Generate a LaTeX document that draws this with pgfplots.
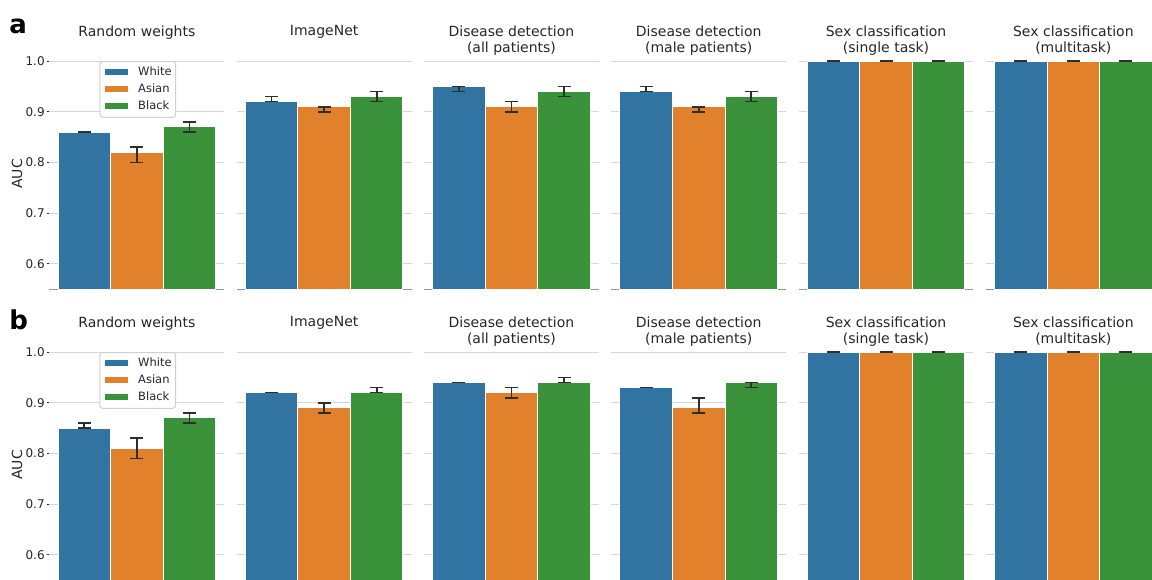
\documentclass[border=0pt]{standalone}
\usepackage{fontspec}
\setmainfont{DejaVu Sans}
\usepackage{pgfplots}
\pgfplotsset{compat=1.18}
\definecolor{cW}{HTML}{3274A1}
\definecolor{cA}{HTML}{E1812C}
\definecolor{cB}{HTML}{3A923A}
\definecolor{txt}{HTML}{262626}
\definecolor{gridc}{HTML}{D6D6D6}
\definecolor{axc}{HTML}{959595}
\definecolor{errc}{HTML}{2E2E2E}
\definecolor{legc}{HTML}{D0D0D0}
\pgfplotsset{
  panel/.style={
    scale only axis, width=87.35pt, height=115.35pt,
    xmin=-0.662, xmax=2.662, ymin=0.55, ymax=1.005,
    anchor=south west,
    axis x line=bottom, axis y line=left,
    x axis line style={-, draw=axc, line width=0.65pt},
    y axis line style={draw=none},
    xtick=\empty,
    ytick={0.6,0.7,0.8,0.9,1.0},
    yticklabels={},
    ymajorgrids, grid style={draw=gridc, line width=0.5pt},
    major tick length=0pt,
    ytick style={draw=none},
    title style={at={(0.5,1)}, anchor=north, yshift=10.75pt, inner sep=0pt,
      align=center, font=\fontsize{7}{8.4}\selectfont, text=txt},
  },
  firstcol/.style={
    yticklabels={0.6,0.7,0.8,0.9,1.0},
    ytick style={draw=txt, line width=0.4pt},
    major tick length=1.3pt, tick align=outside,
    yticklabel style={font=\fontsize{6}{7}\selectfont, text=txt, inner sep=0.9pt},
    ylabel={AUC},
    ylabel style={at={(axis description cs:-0.186,0.5)}, anchor=center, inner sep=0pt,
      font=\fontsize{7}{8}\selectfont, text=txt},
    legend entries={White,Asian,Black},
    legend cell align=left,
    legend style={at={(0.285,0.989)}, anchor=north west, draw=legc, line width=0.5pt,
      rounded corners=1.5pt, fill=white, inner xsep=2pt, inner ysep=2.7pt,
      font=\fontsize{5.75}{6.9}\selectfont, text=txt,
      row sep=3pt, column sep=0pt,
      nodes={inner sep=0pt, text height=4.3pt, text depth=1.2pt}},
  },
  mybar/.style={
    ybar, bar width=1, bar shift=0pt, draw=white, line width=0.5pt,
    legend image code/.code={\fill[##1, sharp corners] (0pt,-1.75pt) rectangle (12pt,1.75pt);
      \path (16.7pt,0pt);},
    error bars/y dir=both, error bars/y explicit,
    error bars/error bar style={line width=0.85pt, draw=errc, solid},
    error bars/error mark options={rotate=90, line width=0.85pt, draw=errc, mark size=3.25pt},
  },
}
\newcommand{\panel}[7]{%
\begin{axis}[panel, at={(#1,#2)}, title={#3}, #4]
\addplot[mybar, fill=cW] coordinates {#5};
\addplot[mybar, fill=cA] coordinates {#6};
\addplot[mybar, fill=cB] coordinates {#7};
\end{axis}}
\begin{document}
\begin{tikzpicture}
\path[use as bounding box] (0pt,0pt) rectangle (576pt,289.5pt);
\clip (0pt,0pt) rectangle (576pt,289.5pt);
% ---- row a ----
\panel{24.75pt}{144.9pt}{Random weights}{firstcol}
 {(0,0.86) += (0,0) -= (0,0)}{(1,0.82) += (0,0.01) -= (0,0.02)}{(2,0.87) += (0,0.01) -= (0,0.01)}
\panel{118.4pt}{144.9pt}{ImageNet}{}
 {(0,0.92) += (0,0.01) -= (0,0)}{(1,0.91) += (0,0) -= (0,0.01)}{(2,0.93) += (0,0.01) -= (0,0.01)}
\panel{212.05pt}{144.9pt}{Disease detection\\(all patients)}{}
 {(0,0.95) += (0,0) -= (0,0.01)}{(1,0.91) += (0,0.01) -= (0,0.01)}{(2,0.94) += (0,0.01) -= (0,0.01)}
\panel{305.7pt}{144.9pt}{Disease detection\\(male patients)}{}
 {(0,0.94) += (0,0.01) -= (0,0)}{(1,0.91) += (0,0) -= (0,0.01)}{(2,0.93) += (0,0.01) -= (0,0.01)}
\panel{399.35pt}{144.9pt}{Sex classification\\(single task)}{}
 {(0,1.0) += (0,0) -= (0,0)}{(1,1.0) += (0,0) -= (0,0)}{(2,1.0) += (0,0) -= (0,0)}
\panel{493pt}{144.9pt}{Sex classification\\(multitask)}{}
 {(0,1.0) += (0,0) -= (0,0)}{(1,1.0) += (0,0) -= (0,0)}{(2,1.0) += (0,0) -= (0,0)}
% ---- row b ----
\panel{24.75pt}{-0.6pt}{Random weights}{firstcol}
 {(0,0.85) += (0,0.01) -= (0,0)}{(1,0.81) += (0,0.02) -= (0,0.02)}{(2,0.87) += (0,0.01) -= (0,0.01)}
\panel{118.4pt}{-0.6pt}{ImageNet}{}
 {(0,0.92) += (0,0) -= (0,0)}{(1,0.89) += (0,0.01) -= (0,0.01)}{(2,0.92) += (0,0.01) -= (0,0)}
\panel{212.05pt}{-0.6pt}{Disease detection\\(all patients)}{}
 {(0,0.94) += (0,0) -= (0,0)}{(1,0.92) += (0,0.01) -= (0,0.01)}{(2,0.94) += (0,0.01) -= (0,0)}
\panel{305.7pt}{-0.6pt}{Disease detection\\(male patients)}{}
 {(0,0.93) += (0,0) -= (0,0)}{(1,0.89) += (0,0.02) -= (0,0.01)}{(2,0.94) += (0,0) -= (0,0.01)}
\panel{399.35pt}{-0.6pt}{Sex classification\\(single task)}{}
 {(0,1.0) += (0,0) -= (0,0)}{(1,1.0) += (0,0) -= (0,0)}{(2,1.0) += (0,0) -= (0,0)}
\panel{493pt}{-0.6pt}{Sex classification\\(multitask)}{}
 {(0,1.0) += (0,0) -= (0,0)}{(1,1.0) += (0,0) -= (0,0)}{(2,1.0) += (0,0) -= (0,0)}
% panel letters
\node[anchor=base west, inner sep=0pt, text=black, font=\bfseries\fontsize{13}{16}\selectfont] at (4.5pt,272.85pt) {a};
\node[anchor=base west, inner sep=0pt, text=black, font=\bfseries\fontsize{13}{16}\selectfont] at (4.5pt,124.85pt) {b};
\end{tikzpicture}
\end{document}
